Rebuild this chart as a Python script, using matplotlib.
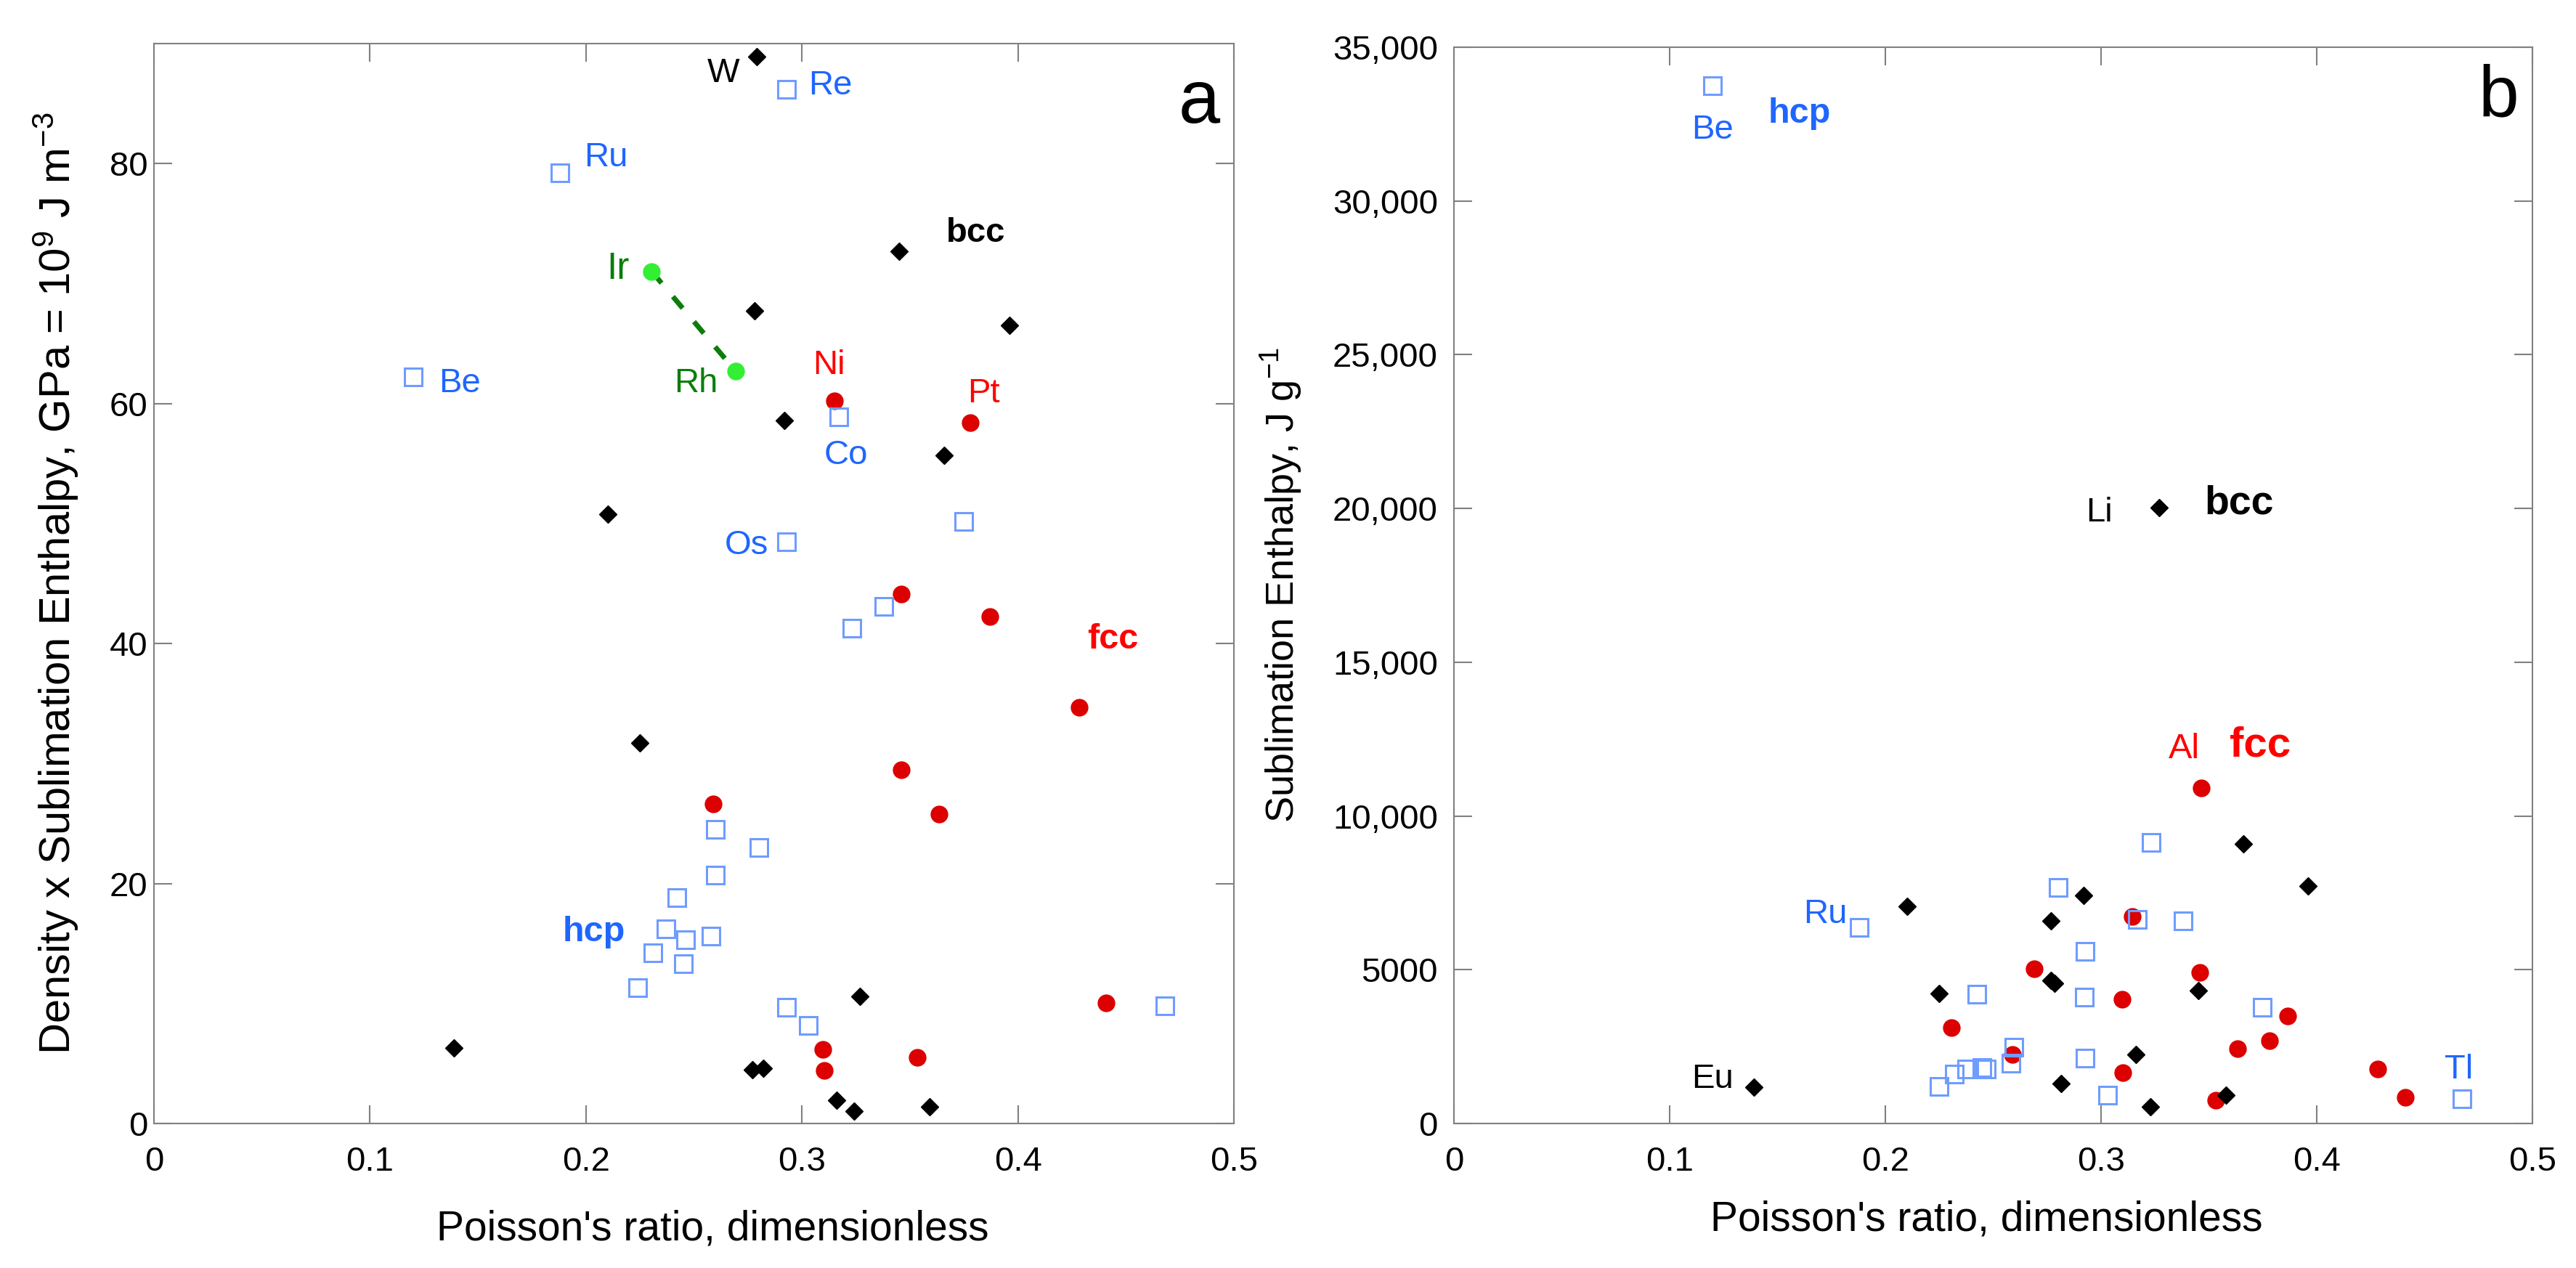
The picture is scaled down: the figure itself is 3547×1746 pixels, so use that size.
import matplotlib.pyplot as plt
from matplotlib.ticker import FuncFormatter

plt.rcParams["font.family"] = ["Liberation Sans", "DejaVu Sans"]
plt.rcParams["mathtext.fontset"] = "custom"
plt.rcParams["mathtext.rm"] = "Liberation Sans"
plt.rcParams["mathtext.it"] = "Liberation Sans:italic"

# ---- panel a: density x sublimation enthalpy (GPa) ----
bcc_x_a = [0.279, 0.345, 0.278, 0.396, 0.292, 0.366, 0.210, 0.225, 0.327, 0.139,
           0.277, 0.282, 0.316, 0.324, 0.359]
bcc_y_a = [88.9, 72.7, 67.7, 66.5, 58.6, 55.7, 50.8, 31.7, 10.6, 6.3,
           4.5, 4.6, 1.95, 1.0, 1.4]

fcc_x_a = [0.315, 0.378, 0.346, 0.387, 0.4285, 0.346, 0.259, 0.3635, 0.441,
           0.3096, 0.3103, 0.3534]
fcc_y_a = [60.2, 58.4, 44.1, 42.25, 34.65, 29.45, 26.6, 25.8, 10.05, 6.2, 4.4, 5.5]

irrh_x = [0.2305, 0.2693]
irrh_y = [71.0, 62.7]

hcp_x_a = [0.293, 0.188, 0.120, 0.317, 0.293, 0.375, 0.338, 0.323, 0.260, 0.280,
           0.260, 0.242, 0.237, 0.246, 0.258, 0.231, 0.245, 0.224, 0.468, 0.293, 0.303]
hcp_y_a = [86.2, 79.2, 62.2, 58.9, 48.5, 50.2, 43.1, 41.3, 24.5, 23.0,
           20.7, 18.8, 16.2, 15.3, 15.6, 14.25, 13.3, 11.3, 9.8, 9.7, 8.2]

# ---- panel b: sublimation enthalpy (J/g) ----
bcc_x_b = [0.327, 0.210, 0.225, 0.139, 0.366, 0.292, 0.396, 0.2768, 0.2768, 0.2785,
           0.345, 0.316, 0.2816, 0.323, 0.358]
bcc_y_b = [20020, 7055, 4232, 1186, 9097, 7413, 7716, 6597, 4650, 4570,
           4330, 2252, 1291, 534, 920]

fcc_x_b = [0.3464, 0.3146, 0.269, 0.3459, 0.3097, 0.3865, 0.2306, 0.378, 0.3634,
           0.2588, 0.4284, 0.3102, 0.3532, 0.4411]
fcc_y_b = [10910, 6734, 5020, 4913, 4046, 3500, 3116, 2704, 2421,
           2251, 1771, 1660, 749, 856]

hcp_x_b = [0.120, 0.188, 0.3233, 0.2803, 0.3169, 0.3379, 0.2926, 0.2424, 0.2924,
           0.3747, 0.2595, 0.2584, 0.2926, 0.2449, 0.2469, 0.2376, 0.2320, 0.2250,
           0.3030, 0.4675]
hcp_y_b = [33750, 6375, 9147, 7687, 6637, 6597, 5586, 4196, 4100,
           3772, 2487, 1960, 2133, 1820, 1780, 1780, 1600, 1206,
           928, 797]

# colours
BLUE_TXT = "#1f66ff"
BLUE_SQ = "#6f9cff"
RED_DOT = "#dc0000"
RED_TXT = "#ff0000"
GREEN_DOT = "#33ee33"
GREEN_TXT = "#0b7d0b"
GREY = "#808080"

fig = plt.figure(figsize=(35.48, 17.46), dpi=100)
ax1 = fig.add_axes([0.05975, 0.11397, 0.4191, 0.8517])
ax2 = fig.add_axes([0.56426, 0.11397, 0.41855, 0.8488])


def draw(ax, fx, fy, hx, hy, bx, by):
    ax.plot(fx, fy, "o", ls="none", ms=16.5, mfc=RED_DOT, mec=RED_DOT, mew=1, zorder=3)
    ax.plot(hx, hy, "s", ls="none", ms=17, mfc="none", mec=BLUE_SQ, mew=2.2, zorder=4)
    ax.plot(bx, by, "D", ls="none", ms=12, mfc="black", mec="black", mew=1, zorder=5)


def style(ax, ypad):
    for s in ax.spines.values():
        s.set_color(GREY)
        s.set_linewidth(1.5)
    ax.tick_params(direction="in", length=18, width=1.5, color=GREY,
                   top=True, right=True, labelsize=34)
    ax.tick_params(axis="x", pad=22)
    ax.tick_params(axis="y", pad=ypad)
    ax.set_xlim(0, 0.5)
    ax.set_xticks([0, 0.1, 0.2, 0.3, 0.4, 0.5])
    ax.set_xticklabels(["0", "0.1", "0.2", "0.3", "0.4", "0.5"])


# panel a
draw(ax1, fcc_x_a, fcc_y_a, hcp_x_a, hcp_y_a, bcc_x_a, bcc_y_a)
ax1.plot(irrh_x, irrh_y, "--", color=GREEN_TXT, lw=5, dashes=(3, 3.5), zorder=2)
ax1.plot(irrh_x, irrh_y, "o", ls="none", ms=16.5, mfc=GREEN_DOT, mec=GREEN_DOT, zorder=3)
style(ax1, 6)
ax1.set_ylim(0, 90)
ax1.set_yticks([0, 20, 40, 60, 80])
ax1.set_xlabel("Poisson's ratio, dimensionless", fontsize=41)
ax1.xaxis.set_label_coords(0.517, -0.080)
ax1.set_ylabel("Density x Sublimation Enthalpy, GPa = 10$^{9}$ J m$^{-3}$", fontsize=43)
ax1.yaxis.set_label_coords(-0.068, 0.5)

lab = dict(fontsize=34, va="center")
ax1.text(0.271, 87.5, "W", color="black", ha="right", **lab)
ax1.text(0.303, 86.5, "Re", color=BLUE_TXT, ha="left", **lab)
ax1.text(0.199, 80.5, "Ru", color=BLUE_TXT, ha="left", **lab)
ax1.text(0.132, 61.7, "Be", color=BLUE_TXT, ha="left", **lab)
ax1.text(0.220, 71.2, "Ir", color=GREEN_TXT, ha="right", fontsize=37, va="center")
ax1.text(0.261, 61.7, "Rh", color=GREEN_TXT, ha="right", **lab)
ax1.text(0.3124, 63.2, "Ni", color=RED_TXT, ha="center", **lab)
ax1.text(0.3843, 60.8, "Pt", color=RED_TXT, ha="center", **lab)
ax1.text(0.3204, 55.7, "Co", color=BLUE_TXT, ha="center", **lab)
ax1.text(0.2846, 48.2, "Os", color=BLUE_TXT, ha="right", **lab)
ax1.text(0.367, 74.2, "bcc", color="black", ha="left", fontsize=34,
         fontweight="bold", va="center")
ax1.text(0.432, 40.35, "fcc", color=RED_TXT, ha="left", fontsize=35,
         fontweight="bold", va="center")
ax1.text(0.1893, 15.95, "hcp", color=BLUE_TXT, ha="left", fontsize=35,
         fontweight="bold", va="center")
ax1.text(0.4838, 85.0, "a", color="black", ha="center", va="center", fontsize=74)

# panel b
draw(ax2, fcc_x_b, fcc_y_b, hcp_x_b, hcp_y_b, bcc_x_b, bcc_y_b)
style(ax2, 16)
ax2.set_ylim(0, 35000)
ax2.set_yticks(range(0, 35001, 5000))
ax2.yaxis.set_major_formatter(FuncFormatter(
    lambda v, p: f"{int(v):,}" if v >= 10000 else f"{int(v)}"))
ax2.set_xlabel("Poisson's ratio, dimensionless", fontsize=41)
ax2.xaxis.set_label_coords(0.494, -0.071)
ax2.set_ylabel("Sublimation Enthalpy, J g$^{-1}$", fontsize=39)
ax2.yaxis.set_label_coords(-0.139, 0.5)

ax2.text(0.1199, 32310, "Be", color=BLUE_TXT, ha="center", **lab)
ax2.text(0.1456, 32850, "hcp", color=BLUE_TXT, ha="left", fontsize=35,
         fontweight="bold", va="center")
ax2.text(0.3054, 19860, "Li", color="black", ha="right", **lab)
ax2.text(0.3478, 20160, "bcc", color="black", ha="left", fontsize=40,
         fontweight="bold", va="center")
ax2.text(0.1823, 6810, "Ru", color=BLUE_TXT, ha="right", **lab)
ax2.text(0.1295, 1440, "Eu", color="black", ha="right", **lab)
ax2.text(0.466, 1750, "Tl", color=BLUE_TXT, ha="center", **lab)
ax2.text(0.3387, 12180, "Al", color=RED_TXT, ha="center", fontsize=35, va="center")
ax2.text(0.3595, 12300, "fcc", color=RED_TXT, ha="left", fontsize=42,
         fontweight="bold", va="center")
ax2.text(0.4844, 33350, "b", color="black", ha="center", va="center", fontsize=72)

fig.savefig("out.png", dpi=100)
